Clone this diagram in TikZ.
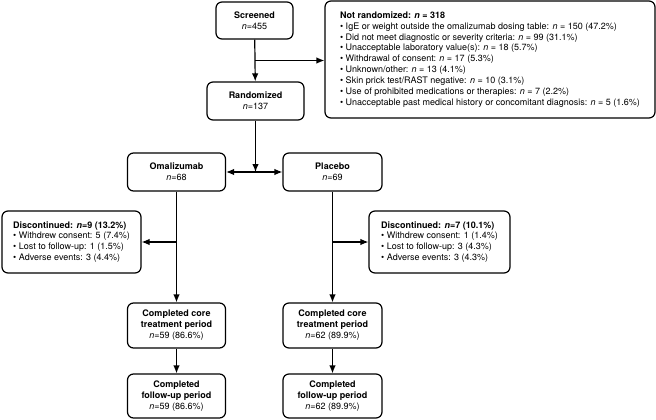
\documentclass[tikz,border=0pt]{standalone}
\usepackage{fontspec}
\setmainfont{TeX Gyre Heros}
\usepackage{tikz}
\usetikzlibrary{arrows.meta,calc}

\newcommand{\nval}{\textit{n}}

\begin{document}
\begin{tikzpicture}[
    x=1pt, y=-1pt,
    font=\fontsize{9}{10.9}\selectfont,
    flow/.style={draw, line width=1.2pt, -{Latex[length=8pt,width=6.5pt]}},
    box/.style={rectangle, draw, line width=1.2pt, rounded corners=6pt, align=center, inner sep=2pt},
    listbox/.style={box, align=left},
    armbox/.style={box, minimum width=98pt, minimum height=38pt}
]
    \useasboundingbox (0,0) rectangle (656,420);

    % Enrolment
    \node[box, minimum width=77pt, minimum height=37pt] (scr) at (254.5,20.5) {\textbf{Screened}\\\nval=455};
    \node[box, minimum width=97pt, minimum height=38pt] (rnd) at (255.5,101) {\textbf{Randomized}\\\nval=137};
    \node[listbox, minimum width=330pt, minimum height=117pt] (nrand) at (490,59.5) {%
        \textbf{Not randomized: \nval{} = 318}\\
        \textbullet{} IgE or weight outside the omalizumab dosing table: \nval{} = 150 (47.2\%)\\
        \textbullet{} Did not meet diagnostic or severity criteria: \nval{} = 99 (31.1\%)\\
        \textbullet{} Unacceptable laboratory value(s): \nval{} = 18 (5.7\%)\\
        \textbullet{} Withdrawal of consent: \nval{} = 17 (5.3\%)\\
        \textbullet{} Unknown/other: \nval{} = 13 (4.1\%)\\
        \textbullet{} Skin prick test/RAST negative: \nval{} = 10 (3.1\%)\\
        \textbullet{} Use of prohibited medications or therapies: \nval{} = 7 (2.2\%)\\
        \textbullet{} Unacceptable past medical history or concomitant diagnosis: \nval{} = 5 (1.6\%)};

    % Allocation
    \node[armbox] (oma) at (176.5,172) {\textbf{Omalizumab}\\\nval=68};
    \node[armbox, minimum width=99pt] (pla) at (332.5,172) {\textbf{Placebo}\\\nval=69};

    % Discontinued
    \node[listbox, minimum width=139pt, minimum height=62pt] (discA) at (71.5,242) {%
        \textbf{Discontinued: \nval=9 (13.2\%)}\\
        \textbullet{} Withdrew consent: 5 (7.4\%)\\
        \textbullet{} Lost to follow-up: 1 (1.5\%)\\
        \textbullet{} Adverse events: 3 (4.4\%)};
    \node[listbox, minimum width=141pt, minimum height=62pt] (discB) at (439.5,242) {%
        \textbf{Discontinued: \nval=7 (10.1\%)}\\
        \textbullet{} Withdrew consent: 1 (1.4\%)\\
        \textbullet{} Lost to follow-up: 3 (4.3\%)\\
        \textbullet{} Adverse events: 3 (4.3\%)};

    % Completed
    \node[armbox, minimum height=45pt] (coreA) at (176.5,325.5) {\textbf{Completed core}\\\textbf{treatment period}\\\nval=59 (86.6\%)};
    \node[armbox, minimum width=99pt, minimum height=45pt] (coreB) at (332.5,325.5) {\textbf{Completed core}\\\textbf{treatment period}\\\nval=62 (89.9\%)};
    \node[armbox, minimum height=44pt] (fupA) at (176.5,396) {\textbf{Completed}\\\textbf{follow-up period}\\\nval=59 (86.6\%)};
    \node[armbox, minimum width=99pt, minimum height=44pt] (fupB) at (332.5,396) {\textbf{Completed}\\\textbf{follow-up period}\\\nval=62 (89.9\%)};

    % Arrows
    \coordinate (j1) at ($(scr.south)!0.5!(rnd.north)$);
    \coordinate (j2) at (rnd.south |- oma.east);
    \coordinate (j3) at (oma.south |- discA.east);
    \coordinate (j4) at (pla.south |- discB.west);
    \draw[flow] (scr) -- (rnd);
    \draw[flow] (j1) -- (j1 -| nrand.west);
    \draw[flow] (rnd) -- (j2);
    \draw[flow, {Latex[length=8pt,width=6.5pt]}-{Latex[length=8pt,width=6.5pt]}] (oma.east) -- (pla.west);
    \draw[flow] (oma) -- (coreA);
    \draw[flow] (pla) -- (coreB);
    \draw[flow] (j3) -- (discA.east);
    \draw[flow] (j4) -- (discB.west);
    \draw[flow] (coreA) -- (fupA);
    \draw[flow] (coreB) -- (fupB);
\end{tikzpicture}
\end{document}
